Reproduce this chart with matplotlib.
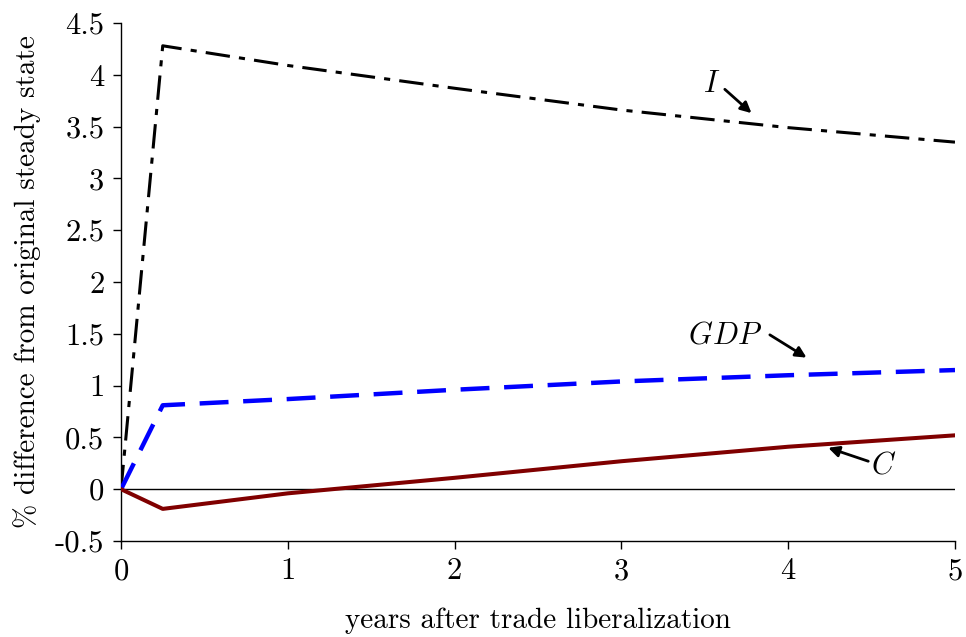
import matplotlib
matplotlib.use('Agg')
import matplotlib.pyplot as plt

plt.rcParams['font.family'] = ['cmr10', 'DejaVu Serif']
plt.rcParams['mathtext.fontset'] = 'cm'
plt.rcParams['axes.formatter.use_mathtext'] = True

# years after liberalization and % deviation from the original steady state
years = [0, 0.25, 1, 2, 3, 4, 5]
inv = [0.0, 4.28, 4.09, 3.87, 3.66, 3.49, 3.35]
gdp = [0.0, 0.81, 0.87, 0.96, 1.04, 1.10, 1.15]
cons = [0.0, -0.19, -0.04, 0.11, 0.27, 0.41, 0.52]

yticks = [-0.5, 0, 0.5, 1, 1.5, 2, 2.5, 3, 3.5, 4, 4.5]
ytick_labels = ['-0.5', '0', '0.5', '1', '1.5', '2', '2.5', '3', '3.5', '4', '4.5']
xticks = [0, 1, 2, 3, 4, 5]

fig = plt.figure(figsize=(9.66, 6.37), dpi=100)
ax = fig.add_axes([0.1253, 0.1507, 0.8633, 0.8132])

ax.axhline(0, color='black', lw=1.0, zorder=1)
ax.plot(years, inv, color='black', lw=2.2, dashes=(8, 3, 2, 3), zorder=3)
ax.plot(years, gdp, color='#0000ff', lw=3.2, dashes=(6.5, 3.3), zorder=3)
ax.plot(years, cons, color='#800000', lw=2.9, zorder=3)

ax.set_xlim(0, 5)
ax.set_ylim(-0.5, 4.5)
ax.set_xticks(xticks)
ax.set_xticklabels([str(x) for x in xticks])
ax.set_yticks(yticks)
ax.set_yticklabels(ytick_labels)
ax.tick_params(direction='out', length=6, width=1, labelsize=22, pad=6)

for s in ['top', 'right']:
    ax.spines[s].set_visible(False)
for s in ['left', 'bottom']:
    ax.spines[s].set_linewidth(1.0)

ax.set_xlabel('years after trade liberalization', fontsize=21, labelpad=16)
ax.set_ylabel('% difference from original steady state', fontsize=21, labelpad=10)

arrow = dict(arrowstyle='-|>', color='black', lw=2.0, mutation_scale=16,
             shrinkA=0, shrinkB=0)
ax.text(3.54, 3.91, '$I$', fontsize=22, ha='center', va='center')
ax.annotate('', xy=(3.78, 3.63), xytext=(3.62, 3.86), arrowprops=arrow)
ax.text(3.62, 1.48, '$GDP$', fontsize=22, ha='center', va='center')
ax.annotate('', xy=(4.11, 1.27), xytext=(3.89, 1.49), arrowprops=arrow)
ax.text(4.57, 0.23, '$C$', fontsize=22, ha='center', va='center')
ax.annotate('', xy=(4.24, 0.40), xytext=(4.48, 0.27), arrowprops=arrow)

fig.savefig('out.png', dpi=100, facecolor='white')
